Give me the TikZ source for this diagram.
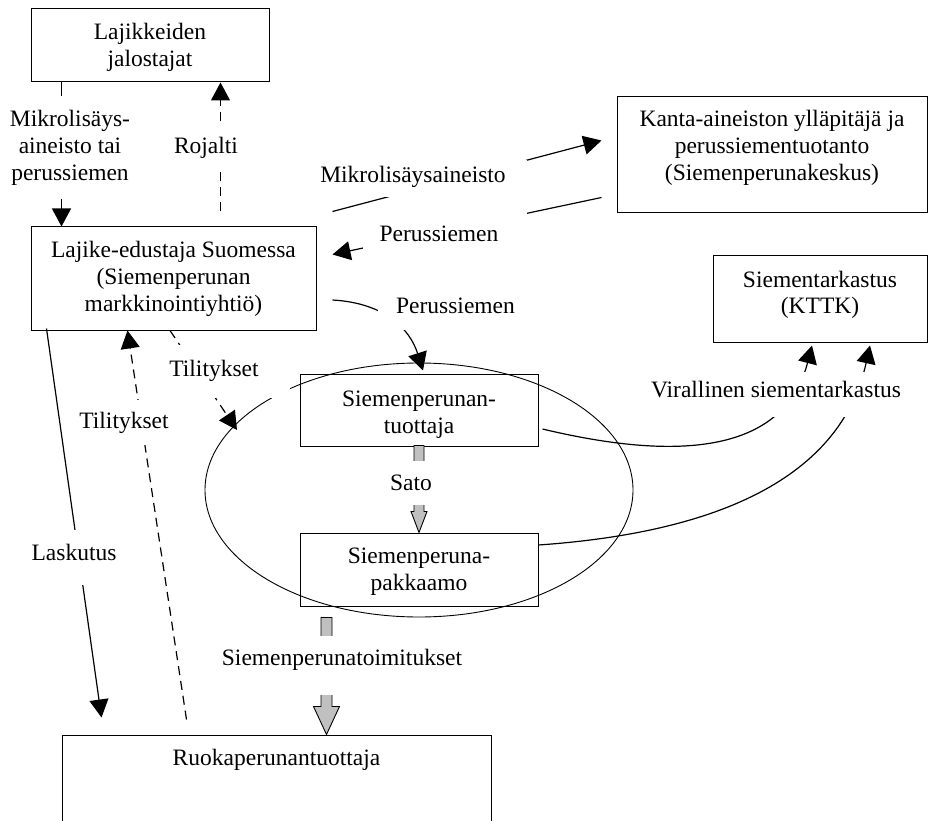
\documentclass[tikz,border=0pt]{standalone}
\usepackage{fontspec}
\setmainfont{Liberation Serif}
\usetikzlibrary{arrows.meta,shapes.geometric,calc}
\definecolor{flowgray}{RGB}{192,192,192}
% box contents: width, height, height of first line, text (top aligned)
\newcommand\boxtext[4]{\parbox[c][#2][t]{#1}{\centering\rule{0pt}{#3}#4}}
\begin{document}
\begin{tikzpicture}[x=1pt,y=-1pt,
  every node/.style={font=\fontsize{23.5pt}{27pt}\selectfont},
  box/.style={draw, line width=1pt, inner sep=0pt},
  link/.style={line width=1.2pt, -{Triangle[length=18pt,width=19pt]}},
  dashedlink/.style={link, dash pattern=on 9pt off 6pt},
  flow/.style={draw=black, line width=0.9pt, fill=flowgray, line join=miter},
  mask/.style={fill=white, inner sep=0pt, anchor=base}]
\useasboundingbox (0,0) rectangle (929,821);
\clip (0,0) rectangle (929,821);

% production circle
\node[draw, ellipse, line width=0.9pt, minimum width=428pt, minimum height=254pt, inner sep=0pt] (loop) at (419,490) {};

% actors
\node[box] (jal) at (150,45.5) {\boxtext{238pt}{73pt}{30.5pt}{Lajikkeiden\\jalostajat}};
\node[box] (rep) at (173.5,278.5) {\boxtext{285pt}{103pt}{30pt}{Lajike-edustaja Suomessa\\(Siemenperunan\\markkinointiyhtiö)}};
\node[box] (kanta) at (772,155) {\boxtext{310pt}{116pt}{30pt}{Kanta-aineiston ylläpitäjä ja\\perussiementuotanto\\(Siemenperunakeskus)}};
\node[box] (tark) at (820,298.5) {\boxtext{214pt}{87pt}{32pt}{Siementarkastus\\(KTTK)}};
\node[box] (tuo) at (419,410) {\boxtext{238pt}{72pt}{32pt}{Siemenperunan-\\tuottaja}};
\node[box] (pak) at (419,569.5) {\boxtext{238pt}{73pt}{30pt}{Siemenperuna-\\pakkaamo}};
\node[box] (food) at (276.5,797.5) {\boxtext{429pt}{125pt}{30pt}{Ruokaperunantuottaja}};

% material and money flows
\draw[link] ($(jal.south west)+(31,0)$) -- ($(rep.north west)+(31,0)$);
\draw[dashedlink] ($(rep.north west)+(190,-15)$) -- ($(jal.south west)+(190,0)$);
\draw[link] ($(rep.north east)+(16,-15)$) -- ($(kanta.south west)+(-15,-73)$);
\draw[link] ($(kanta.south west)+(-15,-16)$) -- ($(rep.north east)+(16,28)$);
\draw[link] ($(rep.east)+(16,21.5)$) .. controls +(53,3) and +(-13,-41) .. ($(tuo.north)+(4,-3)$);
\draw[dashedlink] ($(rep.south)+(-3.5,0)$) -- ($(loop.center)+(-182,-60)$);
\draw[dashedlink] ($(food.north west)+(125,-15)$) -- ($(rep.south west)+(97,0)$);
\draw[link] ($(rep.south west)+(16,-2)$) -- ($(food.north west)+(40,-17)$);
\draw[link] ($(tuo.east)+(4,19)$) .. controls +(117,28) and +(-30,116) .. ($(tark.south)+(-8,3)$);
\draw[link] ($(pak.east)+(0,-24.5)$) .. controls +(150,-10.5) and +(-32.5,146.4) .. ($(tark.south)+(50,3)$);

% block arrows
\draw[flow] (pak.north) -- ++(-8,-21) -- ++(3,0) -- ++(0,-66) -- ++(10,0) -- ++(0,66) -- ++(3,0) -- cycle;
\draw[flow] ($(food.north west)+(265,0)$) -- ++(-13,-28) -- ++(7.5,0) -- ++(0,-89) -- ++(11,0) -- ++(0,89) -- ++(7.5,0) -- cycle;

% labels
\node[fill=white, inner xsep=0pt, inner ysep=14pt, align=center] (lmikro) at (70,147.5) {Mikrolisäys-\\aineisto tai\\perussiemen};
\node[mask, text height=31pt, text depth=16pt] (lroj) at (206,154) {Rojalti};
\node[mask, text height=23pt, text depth=14pt, minimum width=207pt] (lmik) at (423.5,183) {\hspace*{-21pt}Mikrolisäysaineisto};
\node[mask, text height=31pt, text depth=8pt, minimum width=164pt] (lper1) at (445,242) {\hspace*{-12pt}Perussiemen};
\node[mask, text height=28pt, text depth=17pt, minimum width=142pt] (lper2) at (449,313) {\hspace*{13pt}Perussiemen};
\node[mask, text height=31pt, text depth=22pt, minimum width=125pt] (ltil1) at (227.5,376) {\hspace*{-27pt}Tilitykset};
\node[mask, text height=28pt, text depth=17pt] (ltil2) at (124,428) {Tilitykset};
\node[mask, text height=30pt, text depth=25pt] (llas) at (74,560) {Laskutus};
\node[mask, text height=25pt, text depth=20pt] (lvir) at (776,397) {Virallinen siementarkastus};
\node[mask, text height=29pt, text depth=15pt] (lsato) at (411,490) {Sato};
\node[mask, text height=29pt, text depth=30pt] (ltoim) at (342,665) {Siemenperunatoimitukset};
\end{tikzpicture}
\end{document}
